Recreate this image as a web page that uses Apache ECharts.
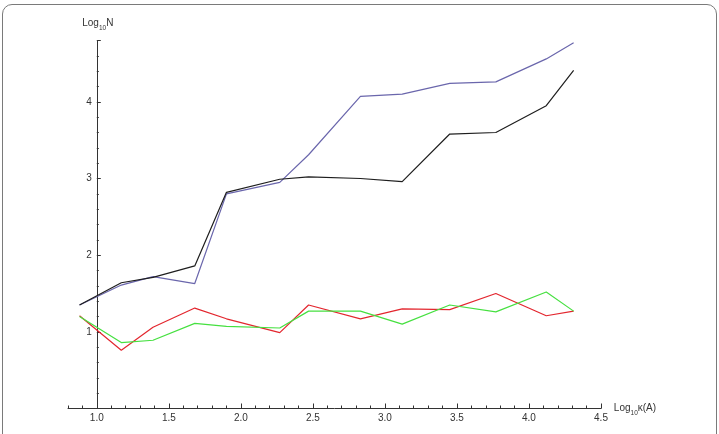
<!DOCTYPE html>
<html>
<head>
<meta charset="utf-8">
<script src="https://cdn.jsdelivr.net/npm/echarts@6/dist/echarts.min.js"></script>
<style>
  html, body { margin: 0; padding: 0; background: #fff; }
  #chart { width: 719px; height: 434px; }
  #frame { position: absolute; left: 2px; top: 4px; width: 715px; height: 450px;
           border: 1.5px solid #7a7a7a; border-radius: 10px; pointer-events: none; box-sizing: border-box; }
</style>
</head>
<body>
<div id="chart"></div>
<div id="frame"></div>
<script>
// Log10 κ(A) positions
const xValues = [0.88, 1.17, 1.39, 1.68, 1.90, 2.27, 2.47, 2.83, 3.12, 3.45, 3.77, 4.12, 4.31];
// Log10 N series
const blueSeries  = [1.35, 1.61, 1.72, 1.63, 2.80, 2.95, 3.31, 4.07, 4.10, 4.24, 4.26, 4.56, 4.77];
const blackSeries = [1.35, 1.64, 1.71, 1.86, 2.82, 2.99, 3.02, 3.00, 2.96, 3.58, 3.60, 3.95, 4.41];
const redSeries   = [1.21, 0.76, 1.06, 1.31, 1.17, 0.99, 1.35, 1.17, 1.30, 1.29, 1.50, 1.21, 1.27];
const greenSeries = [1.20, 0.86, 0.89, 1.11, 1.07, 1.05, 1.27, 1.27, 1.10, 1.35, 1.26, 1.52, 1.27];
// tick labels
const xMajorTicks = [1.0, 1.5, 2.0, 2.5, 3.0, 3.5, 4.0, 4.5];
const xMinorTicks = [0.8, 0.9, 1.1, 1.2, 1.3, 1.4, 1.6, 1.7, 1.8, 1.9, 2.1, 2.2, 2.3, 2.4,
                     2.6, 2.7, 2.8, 2.9, 3.1, 3.2, 3.3, 3.4, 3.6, 3.7, 3.8, 3.9, 4.1, 4.2, 4.3, 4.4];
const yTickLabels = [1, 2, 3, 4];

const pairs = ys => xValues.map((x, i) => [x, ys[i]]);
const axisColor = '#333';
const fontFamily = 'Liberation Sans, Arial, sans-serif';
const labelStyle = { color: '#333', fontSize: 10, fontFamily };
const richName = {
  a: { fontSize: 10, color: '#333', fontFamily, verticalAlign: 'bottom' },
  b: { fontSize: 6.5, color: '#333', fontFamily, verticalAlign: 'bottom', padding: [0, 0, -3, 0] }
};

const chart = echarts.init(document.getElementById('chart'));
chart.setOption({
  animation: false,
  backgroundColor: 'transparent',
  grid: [
    { left: 68, top: 40.5, width: 533, height: 368 },
    { left: 96.8, top: 40.5, width: 1, height: 368 }
  ],
  xAxis: [
    {
      type: 'value', gridIndex: 0, min: 0.8, max: 4.5,
      axisLine: { show: true, onZero: false, lineStyle: { color: axisColor, width: 1 } },
      axisTick: { show: true, inside: true, length: 5, customValues: xMajorTicks, lineStyle: { color: axisColor } },
      axisLabel: { show: true, customValues: xMajorTicks, margin: 5, formatter: v => v.toFixed(1), ...labelStyle },
      splitLine: { show: false },
      name: '{a|Log}{b|10}{a|κ(A)}',
      nameLocation: 'end', nameGap: 7,
      nameTextStyle: { rich: richName }
    },
    {
      type: 'value', gridIndex: 0, min: 0.8, max: 4.5, position: 'bottom',
      axisLine: { show: false, onZero: false },
      axisTick: { show: true, inside: true, length: 3, customValues: xMinorTicks, lineStyle: { color: axisColor } },
      axisLabel: { show: false },
      splitLine: { show: false }
    },
    {
      type: 'value', gridIndex: 1, min: 0, max: 1, show: false
    }
  ],
  yAxis: [
    { type: 'value', gridIndex: 0, min: 0, max: 4.8, show: false },
    {
      type: 'value', gridIndex: 1, min: 0, max: 4.8, interval: 1,
      axisLine: { show: true, onZero: false, lineStyle: { color: axisColor, width: 1 } },
      axisTick: { show: true, inside: true, length: 4, lineStyle: { color: axisColor } },
      minorTick: { show: true, splitNumber: 5, length: 2, lineStyle: { color: axisColor } },
      axisLabel: { show: true, customValues: yTickLabels, margin: 5, ...labelStyle },
      splitLine: { show: false },
      name: '{a|Log}{b|10}{a|N}',
      nameLocation: 'end', nameGap: 12,
      nameTextStyle: { padding: [0, 0, 0, 2], rich: richName }
    }
  ],
  series: [
    { type: 'line', xAxisIndex: 0, yAxisIndex: 0, data: pairs(blueSeries), symbol: 'none',
      lineStyle: { color: '#6a66ac', width: 1.2 } },
    { type: 'line', xAxisIndex: 0, yAxisIndex: 0, data: pairs(blackSeries), symbol: 'none',
      lineStyle: { color: '#1e1e1e', width: 1.2 } },
    { type: 'line', xAxisIndex: 0, yAxisIndex: 0, data: pairs(redSeries), symbol: 'none',
      lineStyle: { color: '#e3262e', width: 1.2 } },
    { type: 'line', xAxisIndex: 0, yAxisIndex: 0, data: pairs(greenSeries), symbol: 'none',
      lineStyle: { color: '#46e040', width: 1.2 } }
  ]
});
</script>
</body>
</html>
